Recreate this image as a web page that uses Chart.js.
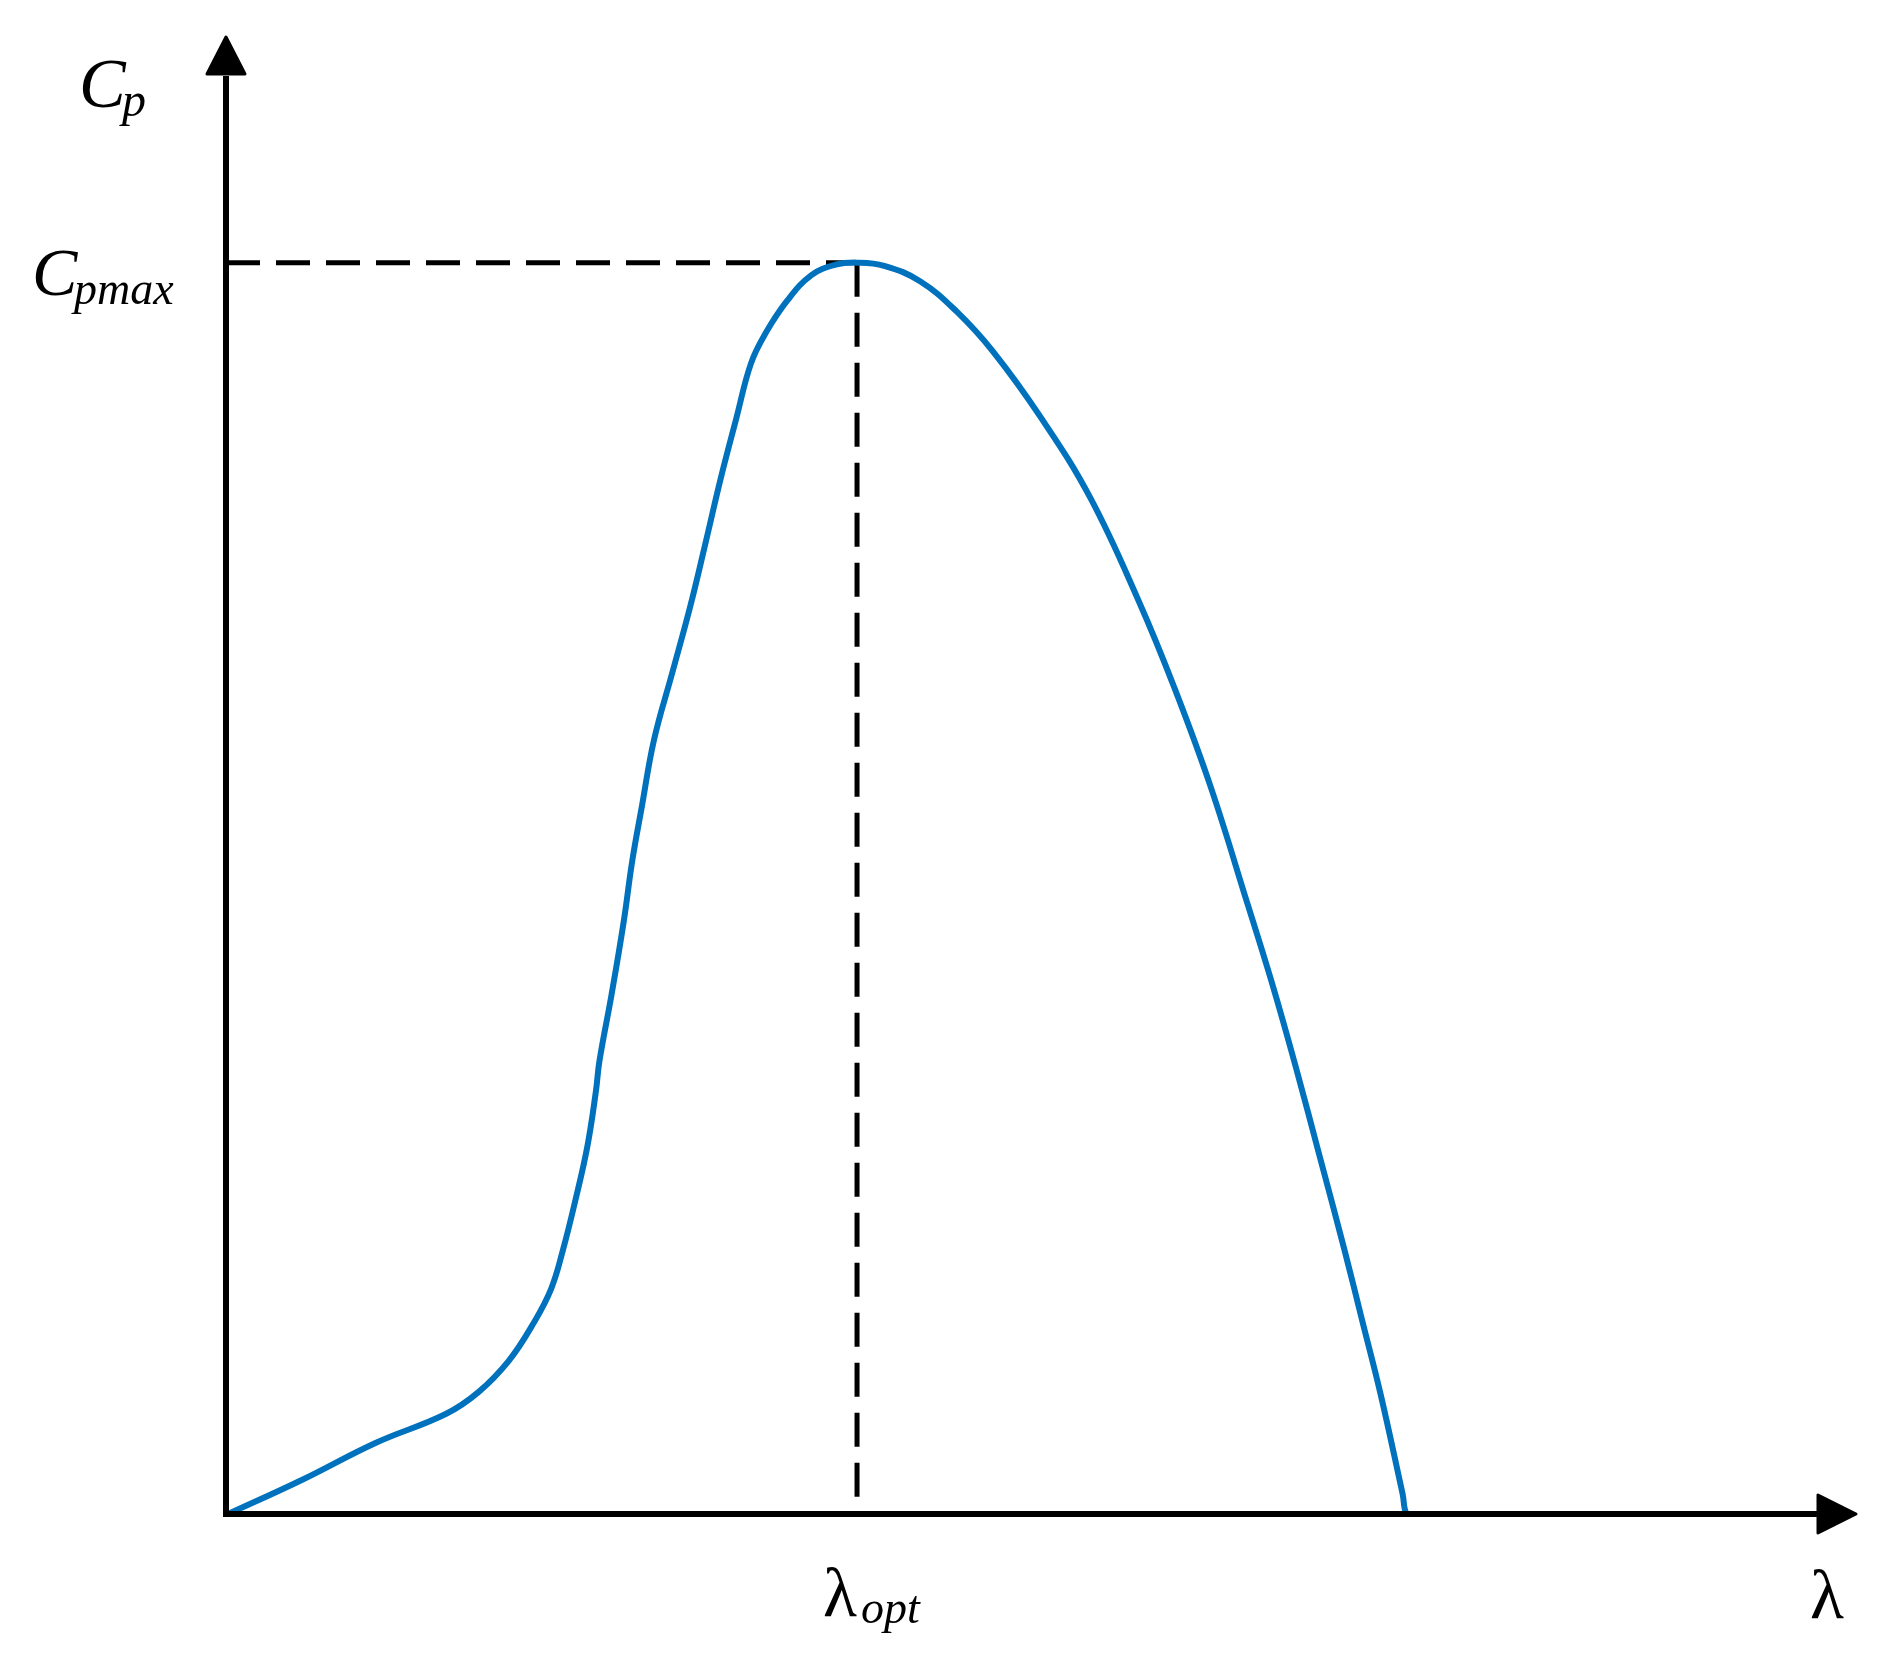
<!DOCTYPE html>
<html>
<head>
<meta charset="utf-8">
<style>
html,body{margin:0;padding:0;background:#ffffff;}
#wrap{width:1899px;height:1666px;position:relative;}
</style>
<script src="https://cdn.jsdelivr.net/npm/chart.js@4"></script>
</head>
<body>
<div id="wrap"><canvas id="c" width="1899" height="1666"></canvas></div>
<script>
// ---- data (tip speed ratio λ vs power coefficient Cp) ----
const lambdaValues = [0, 0.773, 1.504, 2.211, 2.540, 2.845, 3.088, 3.271, 3.393, 3.515, 3.637, 3.722, 3.758, 3.880, 4.002, 4.088, 4.185, 4.307, 4.490, 4.672, 4.819, 4.977, 5.135, 5.282, 5.428, 5.647, 5.891, 6.135, 6.35, 6.623, 6.988, 7.354, 7.719, 8.206, 8.694, 9.181, 9.547, 9.913, 10.278, 10.523, 10.766, 11.010, 11.253, 11.437, 11.620, 11.840, 11.887, 12.000, 15.639];
const cpValues     = [0, 0.0136, 0.0276, 0.0387, 0.0471, 0.0591, 0.0731, 0.0866, 0.1019, 0.1205, 0.1414, 0.1623, 0.1740, 0.1995, 0.2274, 0.2507, 0.2716, 0.2971, 0.3227, 0.3483, 0.3715, 0.3971, 0.4203, 0.4413, 0.4528, 0.4654, 0.4752, 0.4792, 0.48, 0.4788, 0.4728, 0.4612, 0.4459, 0.4203, 0.3901, 0.3506, 0.3167, 0.2786, 0.2344, 0.2042, 0.1716, 0.1368, 0.1019, 0.0740, 0.0461, 0.0081, 0, 0, 0];
const lambdaOpt = 6.35;
const cpMax = 0.48;
const axisRangeX = [0, 16];
const axisRangeY = [0, 0.55];
const labelCp = ['C', 'p'];
const labelCpMax = ['C', 'pmax'];
const labelLambdaOpt = ['λ', 'opt'];
const labelLambda = 'λ';

const curvePts = lambdaValues.map((x, i) => ({x: x, y: cpValues[i]}));
const hDash = [{x: axisRangeX[0], y: cpMax}, {x: lambdaOpt, y: cpMax}];
const vDash = [{x: lambdaOpt, y: cpMax}, {x: lambdaOpt, y: 0.006}];

const serifFont = '"Liberation Serif", "Times New Roman", serif';

const axesPlugin = {
  id: 'axesArrows',
  afterDatasetsDraw(chart) {
    const ctx = chart.ctx;
    const xs = chart.scales.x, ys = chart.scales.y;
    const x0 = xs.getPixelForValue(0);
    const y0 = ys.getPixelForValue(0) - 1;
    const top = chart.chartArea.top;
    const right = chart.chartArea.right;
    ctx.save();
    ctx.strokeStyle = '#000';
    ctx.fillStyle = '#000';
    ctx.lineWidth = 6;
    ctx.lineCap = 'butt';
    ctx.beginPath();
    ctx.moveTo(x0, y0 + 3);
    ctx.lineTo(x0, top - 4);
    ctx.stroke();
    ctx.beginPath();
    ctx.moveTo(x0 - 3, y0);
    ctx.lineTo(right + 2, y0);
    ctx.stroke();
    ctx.lineJoin = 'round';
    ctx.lineWidth = 3;
    ctx.beginPath();
    ctx.moveTo(x0, top - 43);
    ctx.lineTo(x0 + 19, top - 6);
    ctx.lineTo(x0 - 19, top - 6);
    ctx.closePath();
    ctx.fill(); ctx.stroke();
    ctx.beginPath();
    ctx.moveTo(right + 40, y0);
    ctx.lineTo(right + 2, y0 - 19);
    ctx.lineTo(right + 2, y0 + 19);
    ctx.closePath();
    ctx.fill(); ctx.stroke();
    ctx.restore();
  },
  afterDraw(chart) {
    const ctx = chart.ctx;
    const xs = chart.scales.x, ys = chart.scales.y;
    const x0 = xs.getPixelForValue(0);
    const y0 = ys.getPixelForValue(0);
    const yMax = ys.getPixelForValue(cpMax);
    const xOpt = xs.getPixelForValue(lambdaOpt);
    const top = chart.chartArea.top;
    const right = chart.chartArea.right;
    ctx.save();
    ctx.fillStyle = '#000';
    ctx.textBaseline = 'alphabetic';
    ctx.textAlign = 'left';
    ctx.font = 'italic 70px ' + serifFont;
    ctx.fillText(labelCp[0], x0 - 147, top + 27);
    ctx.font = 'italic 48px ' + serifFont;
    ctx.fillText(labelCp[1], x0 - 104, top + 36);
    ctx.font = 'italic 68px ' + serifFont;
    ctx.fillText(labelCpMax[0], x0 - 194, yMax + 32);
    ctx.font = 'italic 46px ' + serifFont;
    ctx.fillText(labelCpMax[1], x0 - 152, yMax + 41);
    ctx.font = '70px ' + serifFont;
    ctx.fillText(labelLambdaOpt[0], xOpt - 34, y0 + 101);
    ctx.font = 'italic 46px ' + serifFont;
    ctx.fillText(labelLambdaOpt[1], xOpt + 4, y0 + 108);
    ctx.font = '70px ' + serifFont;
    ctx.fillText(labelLambda, right - 6, y0 + 103);
    ctx.restore();
  }
};

new Chart(document.getElementById('c'), {
  type: 'scatter',
  data: {
    datasets: [
      { data: curvePts, showLine: true, borderColor: '#0072BD', borderWidth: 6, pointRadius: 0, tension: 0.4, fill: false },
      { data: hDash, showLine: true, borderColor: '#000', borderWidth: 5, borderDash: [34, 16], pointRadius: 0, fill: false },
      { data: vDash, showLine: true, borderColor: '#000', borderWidth: 5, borderDash: [34, 16], pointRadius: 0, fill: false }
    ]
  },
  options: {
    responsive: false,
    maintainAspectRatio: false,
    animation: false,
    devicePixelRatio: 1,
    layout: { padding: { left: 226, right: 83, top: 80, bottom: 151 } },
    scales: {
      x: { type: 'linear', min: axisRangeX[0], max: axisRangeX[1], display: false },
      y: { type: 'linear', min: axisRangeY[0], max: axisRangeY[1], display: false }
    },
    plugins: { legend: { display: false }, tooltip: { enabled: false } }
  },
  plugins: [axesPlugin]
});
</script>
</body>
</html>
